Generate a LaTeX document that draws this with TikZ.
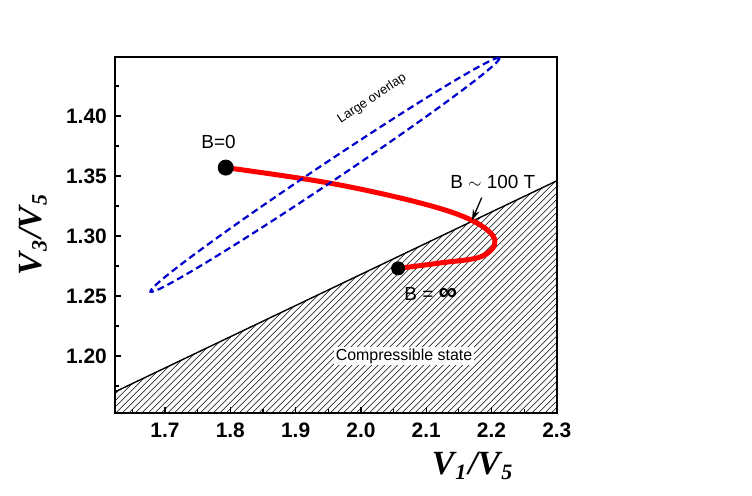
\documentclass[tikz,border=0pt]{standalone}
\usepackage{fontspec}
\setmainfont{Liberation Sans}
\newfontfamily\serifax{Liberation Serif}
\usepackage{tikz}
\usetikzlibrary{arrows.meta}
\tikzset{
  ticklab/.style={font=\fontsize{21}{21}\selectfont\bfseries},
  axlab/.style={font=\fontsize{34}{34}\selectfont\serifax\bfseries\itshape},
  marker/.style={fill=black,circle,inner sep=0pt,minimum size=15bp},
}
\begin{document}
\begin{tikzpicture}[x=1bp,y=1bp]
\useasboundingbox (0,0) rectangle (752,496);
\begin{scope}[x=653bp,y=1200bp,shift={(-945.1bp,-1300bp)}]
  % hatched region
  \begin{scope}
    \clip (1.623,1.1525) -- (1.623,1.17) -- (2.3,1.346) -- (2.3,1.1525) -- cycle;
    \foreach \k in {0,...,110}
      \draw[line width=0.5bp] ([xshift=\k*6.5bp-220bp]1.623,1.1525) -- ++(260bp,260bp);
  \end{scope}
  \draw[line width=1.4bp] (1.623,1.17) -- (2.3,1.346);
  % frame
  \draw[line width=1.6bp] (1.623,1.1525) rectangle (2.3,1.449);
  % ticks
  \foreach \x in {1.7,1.8,1.9,2.0,2.1,2.2,2.3}
    \draw[line width=1.2bp] (\x,1.1525) -- ++(0,6bp) node[ticklab,below=12bp] {\x};
  \foreach \x in {1.65,1.75,...,2.26}
    \draw[line width=1.2bp] (\x,1.1525) -- ++(0,4bp);
  \foreach \y in {1.20,1.25,1.30,1.35,1.40}
    \draw[line width=1.2bp] (1.623,\y) -- ++(6bp,0) node[ticklab,left=10bp] {\y};
  \foreach \y in {1.175,1.225,...,1.43}
    \draw[line width=1.2bp] (1.623,\y) -- ++(4bp,0);
  % path of B
  \coordinate (b0) at (1.793,1.357);
  \coordinate (binf) at (2.057,1.273);
  \coordinate (bcross) at (2.170,1.313);
  \draw[red,line width=5bp] plot[smooth,tension=0.6] coordinates {(1.793,1.357) (1.953,1.344) (2.091,1.3275) (2.170,1.313) (2.205,1.297) (2.185,1.283) (2.121,1.2775) (2.057,1.273)};
  \node[marker,minimum size=16bp] (p0) at (b0) {};
  \node[marker,minimum size=14bp] (pinf) at (binf) {};
  \node[font=\fontsize{19}{19}\selectfont] (l0) at (1.782,1.378) {B=0};
  \node[font=\fontsize{19}{19}\selectfont] (linf) at (2.107,1.252) {B = {\fontsize{26}{26}\selectfont\bfseries ∞}};
  \node[font=\fontsize{19}{19}\selectfont] (l100) at (2.202,1.345) {B $\sim$ 100 T};
  \coordinate (tail) at (2.185,1.332);
  \draw[-{Stealth[length=11bp,width=7bp]},line width=1.3bp] (tail) -- (bcross);
  \node[fill=white,inner sep=2bp,font=\fontsize{16}{16}\selectfont] (comp) at (2.066,1.2) {Compressible state};
  \coordinate (ctr) at (1.945,1.351);
\end{scope}
% overlap region
\draw[blue!80!black,dash pattern=on 7bp off 4bp,line width=2.2bp,rotate around={33.8:(ctr)}] (ctr) ellipse [x radius=210, y radius=9.5];
\node[font=\fontsize{13}{13}\selectfont,rotate=33.8] (ovl) at (372,397) {Large overlap};
% axis labels
\node[axlab,rotate=90] (ylab) at (33,261) {V\kern1pt\raisebox{-5bp}{\fontsize{22}{22}\selectfont3}\kern2pt/V\kern1pt\raisebox{-5bp}{\fontsize{22}{22}\selectfont5}};
\node[axlab] (xlab) at (472,30) {V\kern1pt\raisebox{-5bp}{\fontsize{22}{22}\selectfont1}\kern2pt/V\kern1pt\raisebox{-5bp}{\fontsize{22}{22}\selectfont5}};
\end{tikzpicture}
\end{document}
